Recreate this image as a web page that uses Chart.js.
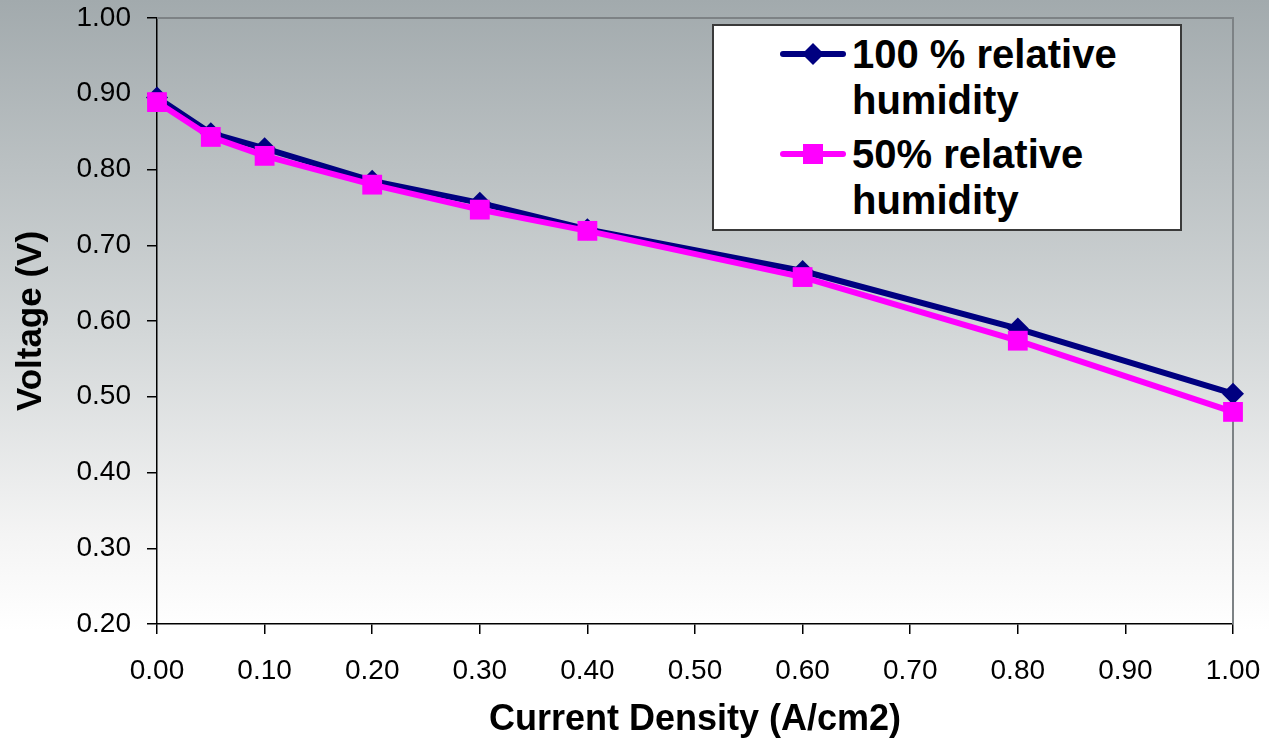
<!DOCTYPE html>
<html>
<head>
<meta charset="utf-8">
<title>Polarization curve</title>
<script src="https://cdn.jsdelivr.net/npm/chart.js@4/dist/chart.umd.min.js"></script>
<style>
  html, body {
    margin: 0;
    padding: 0;
    width: 1269px;
    height: 742px;
    overflow: hidden;
  }
  body {
    background: linear-gradient(to bottom, #a2aaad 0%, #d3d7d8 45%, #f4f4f4 72%, #ffffff 85%);
    font-family: Arial, "Liberation Sans", sans-serif;
    position: relative;
  }
  #wrap {
    position: absolute;
    left: 0;
    top: 0;
    width: 1269px;
    height: 742px;
  }
  #legend {
    position: absolute;
    left: 712px;
    top: 24px;
    width: 466px;
    height: 198px;
    background: #fff;
    border: 2px solid #3a3a3a;
    padding-top: 5px;
    box-sizing: content-box;
  }
  .item {
    display: flex;
    align-items: center;
    margin-bottom: 8px;
  }
  .item svg {
    margin-left: 66px;
    margin-right: 6px;
    flex: none;
  }
  .item span {
    font-weight: bold;
    font-size: 40px;
    line-height: 46px;
    color: #000;
  }
</style>
</head>
<body>
<div id="wrap"><canvas id="chart" width="1269" height="742"></canvas></div>
<div id="legend"></div>
<script>
// current density sweep (A/cm2)
const currentDensity = [0.0, 0.05, 0.1, 0.2, 0.3, 0.4, 0.6, 0.8, 1.0];
// cell voltage (V) at each current density
const voltageRH100 = [0.895, 0.848, 0.828, 0.785, 0.756, 0.721, 0.666, 0.590, 0.504];
const voltageRH50 = [0.889, 0.843, 0.818, 0.780, 0.747, 0.719, 0.658, 0.574, 0.480];
const seriesNames = ["100 % relative\nhumidity", "50% relative\nhumidity"];

const xRange = [0, 1];
const yRange = [0.2, 1.0];
const tickStep = 0.1;

const NAVY = "#000080";
const MAGENTA = "#ff00ff";
const FONT = "Arial, 'Liberation Sans', sans-serif";

function toPoints(xs, ys) {
  return xs.map((x, i) => ({ x, y: ys[i] }));
}

// gray frame on the top and right of the plot area
const plotFrame = {
  id: "plotFrame",
  beforeDatasetsDraw(chart) {
    const { ctx, chartArea: a } = chart;
    ctx.save();
    ctx.strokeStyle = "#7d8285";
    ctx.lineWidth = 2;
    ctx.beginPath();
    ctx.moveTo(a.left, a.top);
    ctx.lineTo(a.right, a.top);
    ctx.lineTo(a.right, a.bottom);
    ctx.stroke();
    ctx.restore();
  },
};

const ctx = document.getElementById("chart").getContext("2d");
const chart = new Chart(ctx, {
  type: "line",
  data: {
    datasets: [
      {
        label: seriesNames[0],
        data: toPoints(currentDensity, voltageRH100),
        borderColor: NAVY,
        backgroundColor: NAVY,
        borderWidth: 6,
        pointStyle: "rectRot",
        pointRadius: 11,
        pointBorderWidth: 0,
        clip: false,
        order: 1,
      },
      {
        label: seriesNames[1],
        data: toPoints(currentDensity, voltageRH50),
        borderColor: MAGENTA,
        backgroundColor: MAGENTA,
        borderWidth: 6,
        pointStyle: "rect",
        pointRadius: 14,
        pointBorderWidth: 0,
        clip: false,
        order: 0,
      },
    ],
  },
  options: {
    responsive: false,
    animation: false,
    layout: { padding: { left: 0, right: 36, top: 18, bottom: 0 } },
    plugins: {
      legend: { display: false },
      tooltip: { enabled: false },
    },
    scales: {
      x: {
        type: "linear",
        min: xRange[0],
        max: xRange[1],
        afterFit(scale) {
          // fixed axis band; edge labels may overhang the plot
          scale.height = 118;
          scale.paddingLeft = 0;
          scale.paddingRight = 0;
        },
        ticks: {
          stepSize: tickStep,
          padding: 20,
          color: "#000",
          font: { family: FONT, size: 28 },
          maxRotation: 0,
          callback: (v) => v.toFixed(2),
        },
        grid: {
          drawOnChartArea: false,
          drawTicks: true,
          tickLength: 10,
          color: "#000",
          lineWidth: 1.5,
        },
        border: { color: "#000", width: 1.5 },
        title: {
          display: true,
          text: "Current Density (A/cm2)",
          color: "#000",
          font: { family: FONT, size: 36, weight: "bold" },
          padding: { top: 0, bottom: 0 },
        },
      },
      y: {
        type: "linear",
        min: yRange[0],
        max: yRange[1],
        afterFit(scale) {
          scale.width = 157;
          scale.paddingTop = 0;
          scale.paddingBottom = 0;
        },
        ticks: {
          stepSize: tickStep,
          padding: 16,
          color: "#000",
          font: { family: FONT, size: 28 },
          callback: (v) => v.toFixed(2),
        },
        grid: {
          drawOnChartArea: false,
          drawTicks: true,
          tickLength: 10,
          color: "#000",
          lineWidth: 1.5,
        },
        border: { color: "#000", width: 1.5 },
        title: {
          display: true,
          text: "Voltage (V)",
          color: "#000",
          font: { family: FONT, size: 35, weight: "bold" },
          padding: { top: 10, bottom: 0 },
        },
      },
    },
  },
  plugins: [plotFrame],
});

// legend box built from the datasets
function markerSvg(ds) {
  const c = ds.borderColor;
  const mark = ds.pointStyle === "rectRot"
    ? `<polygon points="33,12 44,23 33,34 22,23" fill="${c}"/>`
    : `<rect x="23" y="13" width="20" height="20" fill="${c}"/>`;
  return `<svg width="66" height="46" viewBox="0 0 66 46">
    <line x1="3" y1="23" x2="63" y2="23" stroke="${c}" stroke-width="6" stroke-linecap="round"/>
    ${mark}</svg>`;
}

const legendDiv = document.getElementById("legend");
const order = [0, 1];
order.forEach((i) => {
  const ds = chart.data.datasets[i];
  const [first, second] = ds.label.split("\n");
  const row = document.createElement("div");
  row.className = "item";
  row.innerHTML = `${markerSvg(ds)}<span>${first}<br/>${second}</span>`;
  row.querySelector("svg").style.alignSelf = "flex-start";
  legendDiv.appendChild(row);
});
</script>
</body>
</html>
